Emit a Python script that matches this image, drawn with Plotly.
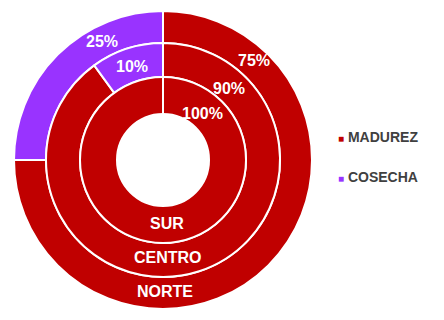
import plotly.graph_objects as go

# ---- data ----
series_labels = ["MADUREZ", "COSECHA"]
series_colors = ["#C00000", "#9933FF"]
rings = ["NORTE", "CENTRO", "SUR"]          # outer -> inner
norte_values = [75, 25]
centro_values = [90, 10]
sur_values = [100, 0]

W, H = 444, 320
cx, cy = 163, 160          # pixel centre of the rings
radii = [149, 117, 83, 46]  # outer edges and final hole

def dom(r):
    return dict(x=[(cx - r) / W, (cx + r) / W], y=[1 - (cy + r) / H, 1 - (cy - r) / H])

fig = go.Figure()
all_vals = [norte_values, centro_values, sur_values]
for i, (name, vals) in enumerate(zip(rings, all_vals)):
    r_out, r_in = radii[i], radii[i + 1]
    fig.add_trace(go.Pie(
        labels=series_labels, values=vals, name=name,
        domain=dom(r_out), hole=r_in / r_out,
        sort=False, direction="clockwise", rotation=0,
        marker=dict(colors=series_colors, line=dict(color="white", width=2)),
        textinfo="none", hoverinfo="label+value+name",
        showlegend=False,
    ))

def ann(px, py, text, size=16, color="white"):
    fig.add_annotation(x=px / W, y=1 - py / H, xref="paper", yref="paper",
                       text=text, showarrow=False, xanchor="center", yanchor="middle",
                       font=dict(family="Liberation Sans, Arial, sans-serif", size=size,
                                 color=color, weight="bold"))

# percentage labels
ann(254, 60, f"{norte_values[0]}%")
ann(229, 88, f"{centro_values[0]}%")
ann(202, 114, f"{sur_values[0]}%")
ann(102, 41, f"{norte_values[1]}%")
ann(132, 66, f"{centro_values[1]}%")
# ring names
ann(167, 223, rings[2])
ann(168, 257, rings[1])
ann(165, 291, rings[0])

# legend
for j, (lab, col) in enumerate(zip(series_labels, series_colors)):
    fig.add_annotation(x=336 / W, y=1 - (137 + 40 * j) / H, xref="paper", yref="paper",
                       text=f'<span style="color:{col};font-size:10px">■</span> {lab}',
                       showarrow=False, xanchor="left", yanchor="middle",
                       font=dict(family="Liberation Sans, Arial, sans-serif", size=14,
                                 color="#404040", weight="bold"))

fig.update_layout(width=W, height=H, margin=dict(l=0, r=0, t=0, b=0),
                  paper_bgcolor="white", plot_bgcolor="white", showlegend=False)
fig.write_html("out.html")
